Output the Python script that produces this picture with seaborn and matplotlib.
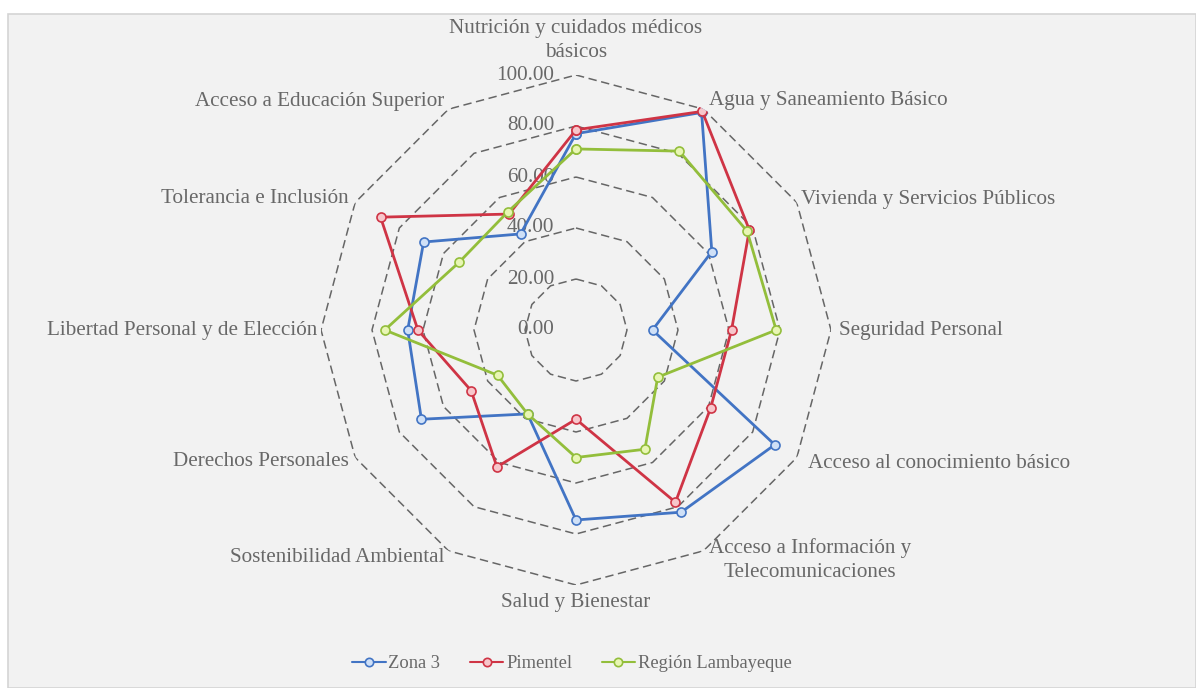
import numpy as np
import pandas as pd
import matplotlib
matplotlib.use("Agg")
import matplotlib.pyplot as plt
from matplotlib.patches import Rectangle
from matplotlib.lines import Line2D
import seaborn as sns

categories = [
    "Nutrición y cuidados médicos\nbásicos",
    "Agua y Saneamiento Básico",
    "Vivienda y Servicios Públicos",
    "Seguridad Personal",
    "Acceso al conocimiento básico",
    "Acceso a Información y\nTelecomunicaciones",
    "Salud y Bienestar",
    "Sostenibilidad Ambiental",
    "Derechos Personales",
    "Libertad Personal y de Elección",
    "Tolerancia e Inclusión",
    "Acceso a Educación Superior",
]
zona3 = [77.0, 98.5, 61.5, 30.0, 90.0, 82.5, 74.5, 38.0, 70.0, 66.0, 69.0, 43.5]
pimentel = [78.5, 99.0, 78.5, 61.0, 61.0, 78.0, 35.0, 62.0, 47.5, 62.0, 88.5, 52.5]
lambayeque = [71.0, 81.0, 77.5, 78.5, 37.0, 54.0, 50.0, 38.0, 35.5, 75.0, 53.0, 53.5]
series_names = ["Zona 3", "Pimentel", "Región Lambayeque"]
tick_values = [0, 20, 40, 60, 80, 100]
tick_labels = ["0.00", "20.00", "40.00", "60.00", "80.00", "100.00"]

line_colors = ["#4274C4", "#CF3445", "#93BE3B"]
face_colors = ["#CFE0F7", "#F7C6CB", "#E8F6B4"]

sns.set_theme(style="white")
plt.rcParams["font.family"] = ["Liberation Serif", "DejaVu Serif"]
text_color = "#686868"
fs = 15.2

W, H = 1196, 688
fig = plt.figure(figsize=(W / 100, H / 100), dpi=100)
fig.patch.set_facecolor("white")
fig.patches.append(Rectangle((8 / W, 0), (W - 8) / W, (H - 14) / H,
                             transform=fig.transFigure, facecolor="#F2F2F2",
                             edgecolor="#D4D4D4", lw=1.2, zorder=-10))

cx, cy, R = 576, 330, 255
ax = fig.add_axes([(cx - R) / W, (H - cy - R) / H, 2 * R / W, 2 * R / H],
                  projection="polar")
ax.set_zorder(2)
ax.set_facecolor("none")
ax.set_theta_zero_location("N")
ax.set_theta_direction(-1)
ax.set_ylim(0, 100)
ax.grid(False)
ax.spines["polar"].set_visible(False)
ax.set_xticks([])
ax.set_yticks([])

n = len(categories)
angles = np.linspace(0, 2 * np.pi, n, endpoint=False)
closed = np.append(angles, angles[0])

# polygon gridlines
for v in tick_values[1:]:
    ax.plot(closed, [v] * (n + 1), color="#666666", lw=1.1,
            ls=(0, (5.5, 3)), zorder=1)

# radial tick labels
for v, lab in zip(tick_values, tick_labels):
    ax.annotate(lab, xy=(0, v), xytext=(-22, 0), textcoords="offset pixels",
                ha="right", va="center", fontsize=fs, color=text_color,
                zorder=2, annotation_clip=False)

# data
rows = []
for name, vals in zip(series_names, [zona3, pimentel, lambayeque]):
    vv = list(vals) + [vals[0]]
    for i, (t, v) in enumerate(zip(closed, vv)):
        rows.append({"serie": name, "theta": t, "valor": v, "orden": i})
df = pd.DataFrame(rows)

handles = []
for name, lc, fc in zip(series_names, line_colors, face_colors):
    sub = df[df["serie"] == name]
    sns.lineplot(data=sub, x="theta", y="valor", sort=False, estimator=None,
                 ax=ax, color=lc, lw=2.0, marker="o", markersize=6.5,
                 markerfacecolor=fc, markeredgecolor=lc, markeredgewidth=1.2,
                 zorder=5, legend=False)
    handles.append(Line2D([0], [0], color=lc, lw=1.5, marker="o", markersize=6,
                          markerfacecolor=fc, markeredgecolor=lc,
                          markeredgewidth=1.2, label=name))
ax.set_xlabel("")
ax.set_ylabel("")
ax.set_ylim(0, 100)

# category labels
label_pos = [
    (105, "center", "bottom"),
    (104, "left", "center"),
    (102, "left", "center"),
    (103, "left", "center"),
    (105, "left", "center"),
    (104, "left", "center"),
    (103, "center", "top"),
    (103, "right", "center"),
    (103, "right", "center"),
    (101.5, "right", "center"),
    (103, "right", "center"),
    (103.5, "right", "center"),
]
for ang, lab, (r, ha, va) in zip(angles, categories, label_pos):
    ax.text(ang, r, lab, ha=ha, va=va, fontsize=fs, color=text_color,
            multialignment="center", clip_on=False, linespacing=1.35)

fig.legend(handles=handles, loc="center", bbox_to_anchor=(572 / W, 1 - 664 / H),
           ncol=3, frameon=False, fontsize=13.3, labelcolor=text_color,
           handlelength=1.8, handletextpad=0.15, columnspacing=1.6)

fig.savefig("out.png", dpi=100, facecolor="white")
